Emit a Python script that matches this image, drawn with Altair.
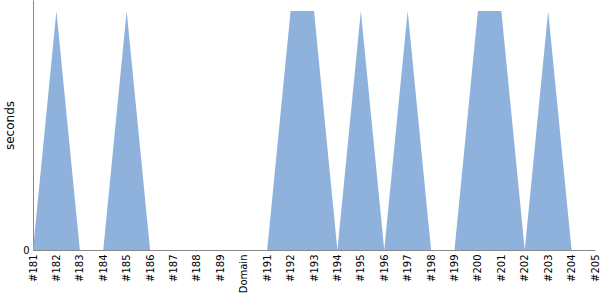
import altair as alt
import pandas as pd

builds = ["#181", "#182", "#183", "#184", "#185", "#186", "#187", "#188", "#189", "Domain",
          "#191", "#192", "#193", "#194", "#195", "#196", "#197", "#198", "#199", "#200",
          "#201", "#202", "#203", "#204", "#205"]
seconds = [0, 1, 0, 0, 1, 0, 0, 0, 0, 0,
           0, 1, 1, 0, 1, 0, 1, 0, 0, 1,
           1, 0, 1, 0, 0]

df = pd.DataFrame({"build": builds, "seconds": seconds})

FONT = "DejaVu Sans"

chart = alt.Chart(df).mark_area(color="#8fb2dc", opacity=1, interpolate="linear").encode(
    x=alt.X("build:N", sort=builds, title=None,
            scale=alt.Scale(type="point", padding=0),
            axis=alt.Axis(labelAngle=-90, labelFont=FONT, labelFontSize=10,
                          labelColor="#000000", ticks=False, domainColor="#888888",
                          labelPadding=4, grid=False)),
    y=alt.Y("seconds:Q", title="seconds", stack=None,
            scale=alt.Scale(domain=[0, 1.046], nice=False),
            axis=alt.Axis(values=[0], ticks=False, grid=False, domainColor="#888888",
                          labelFont=FONT, labelFontSize=10, labelColor="#000000",
                          titleFont=FONT, titleFontSize=12, titleFontWeight="normal",
                          titleColor="#000000", titlePadding=6, labelPadding=4)),
).properties(
    width=562, height=250,
    autosize=alt.AutoSizeParams(type="none"),
    padding={"left": 33, "top": 0, "right": 5, "bottom": 50},
).configure_view(stroke=None)

chart.save("out.html", embed_options={"renderer": "svg", "actions": False})
